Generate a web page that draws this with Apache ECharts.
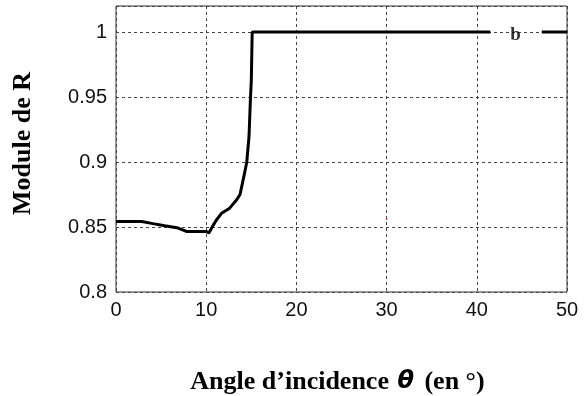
<!DOCTYPE html>
<html>
<head>
<meta charset="utf-8">
<script src="https://cdn.jsdelivr.net/npm/echarts@6/dist/echarts.min.js"></script>
<style>
  html, body { margin: 0; padding: 0; background: #fff; }
  #chart { width: 588px; height: 396px; }
</style>
</head>
<body>
<div id="chart"></div>
<script>
// Incidence angle (degrees) and modulus of the reflection coefficient R
const theta = [0, 2.85, 4.1, 5.4, 6.9, 7.8, 10.0, 10.3, 10.7, 11.15, 11.7, 12.6, 13.4, 13.75, 14.2, 14.5, 14.75, 14.9, 15.0, 15.1, 41.5, 44.3, 47.2, 50];
const moduleR = [0.8543, 0.8543, 0.8526, 0.8510, 0.8492, 0.8466, 0.8466, 0.8454, 0.8505, 0.8556, 0.8605, 0.8645, 0.8711, 0.8750, 0.8897, 0.9000, 0.9200, 0.9480, 0.9626, 1.0, 1.0, null, 1.0, 1.0];

// Curve tag written inside the gap of the line
const curveTag = ['b'];
const curveTagAt = [44.3, 1.0];

// Stray red point
const redDot = [30, 0.8562];

const xTicks = [0, 10, 20, 30, 40, 50];
const yTicks = [0.8, 0.85, 0.9, 0.95, 1];

const points = theta.map((t, i) => [t, moduleR[i] === null ? '-' : moduleR[i]]);

const chart = echarts.init(document.getElementById('chart'), null, { renderer: 'canvas' });

const gridLine = { show: true, lineStyle: { color: '#444', width: 1, type: [3, 3] } };
const tickFont = { fontFamily: 'Liberation Sans, Arial, sans-serif', fontSize: 20, color: '#111' };
const serifBold = { fontFamily: 'Liberation Serif, Times New Roman, serif', fontWeight: 'bold', fontSize: 26, color: '#000' };

chart.setOption({
  backgroundColor: '#fff',
  animation: false,
  grid: {
    left: 116, right: 21, top: 6, bottom: 104,
    containLabel: false, outerBoundsMode: 'none',
    show: true, borderColor: '#333', borderWidth: 1
  },
  xAxis: {
    type: 'value',
    min: xTicks[0],
    max: xTicks[xTicks.length - 1],
    interval: 10,
    axisLine: { show: false },
    axisTick: { show: false },
    axisLabel: Object.assign({ margin: 8 }, tickFont),
    splitLine: gridLine,
    name: 'Angle d’incidence {t|θ} (en °)',
    nameLocation: 'middle',
    nameGap: 77,
    nameTextStyle: Object.assign({
      padding: [0, 8, 0, 0],
      rich: {
        t: Object.assign({}, serifBold, { fontFamily: 'DejaVu Sans, sans-serif', fontStyle: 'italic', fontSize: 24, padding: [0, 4, 0, 2] })
      }
    }, serifBold)
  },
  yAxis: {
    type: 'value',
    min: yTicks[0],
    max: 1.02,
    interval: 0.05,
    axisLine: { show: false },
    axisTick: { show: false },
    axisLabel: Object.assign({ margin: 9, showMaxLabel: false, formatter: v => (yTicks.some(y => Math.abs(y - v) < 1e-9) ? String(+v.toFixed(2)) : '') }, tickFont),
    splitLine: gridLine,
    name: 'Module de R',
    nameLocation: 'middle',
    nameRotate: 90,
    nameGap: 80,
    nameTextStyle: Object.assign({ padding: [0, 0, 0, 11] }, serifBold)
  },
  series: [
    {
      type: 'line',
      data: points,
      showSymbol: false,
      symbol: 'none',
      connectNulls: false,
      lineStyle: { color: '#000', width: 3 },
      z: 3
    },
    {
      type: 'scatter',
      data: [curveTagAt],
      symbolSize: 0,
      label: {
        show: true,
        position: 'inside',
        formatter: () => curveTag[0],
        fontFamily: 'Liberation Serif, Times New Roman, serif',
        fontWeight: 'bold',
        fontSize: 19,
        color: '#000',
        offset: [0, 3]
      },
      z: 4
    },
    {
      type: 'scatter',
      data: [redDot],
      symbolSize: 2,
      itemStyle: { color: '#e03030' },
      z: 4
    }
  ]
});
</script>
</body>
</html>
